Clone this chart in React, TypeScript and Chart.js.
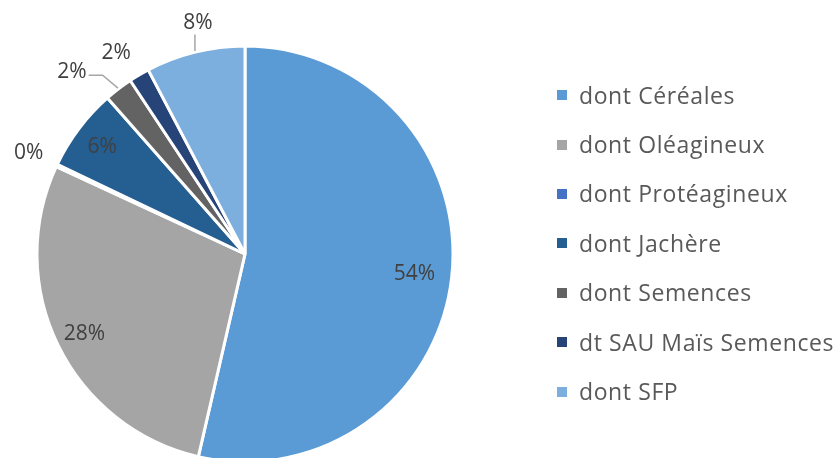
import React, { useEffect, useRef } from "react";
import { Chart, registerables } from "chart.js";

Chart.register(...registerables);

// ---- data ----
const categories = [
  "dont Céréales",
  "dont Oléagineux",
  "dont Protéagineux",
  "dont Jachère",
  "dont Semences",
  "dt SAU Maïs Semences",
  "dont SFP",
];
const shares = [53.6, 28.3, 0.2, 6.4, 2.2, 1.6, 7.7];
const colors = ["#5B9BD5", "#A5A5A5", "#4472C4", "#255E91", "#636363", "#264478", "#7CAFDD"];

// ---- label layout (relative to each slice) ----
const labelRadius = [0.82, 0.86, 1.15, 0.86, 1.21, 1.15, 1.14];
const labelAngleShift = [0, 0, 0, 0, -6, -2, 2.4];
const leaderStyle = ["none", "none", "none", "none", "elbow", "none", "vertical"];

const FONT = "'Open Sans', sans-serif";
const LEGEND_FONT = "'Open Sans', sans-serif";
const TEXT = "#404040";

const labelPlugin = {
  id: "pctLabels",
  afterDatasetsDraw(chart: any) {
    const ctx = chart.ctx;
    const meta = chart.getDatasetMeta(0);
    const data = chart.data.datasets[0].data as number[];
    const total = data.reduce((a, b) => a + b, 0);
    ctx.save();
    ctx.font = `21px ${FONT}`;
    ctx.textAlign = "center";
    ctx.textBaseline = "middle";
    meta.data.forEach((arc: any, i: number) => {
      const { x, y, startAngle, endAngle, outerRadius } = arc.getProps(
        ["x", "y", "startAngle", "endAngle", "outerRadius"],
        true
      );
      const mid = (startAngle + endAngle) / 2;
      const a = mid + (labelAngleShift[i] * Math.PI) / 180;
      const lx = x + Math.cos(a) * outerRadius * labelRadius[i];
      const ly = y + Math.sin(a) * outerRadius * labelRadius[i];
      const text = Math.round((data[i] / total) * 100) + "%";
      const w = ctx.measureText(text).width;
      const ex = x + Math.cos(mid) * (outerRadius + 1);
      const ey = y + Math.sin(mid) * (outerRadius + 1);
      ctx.strokeStyle = "#A6A6A6";
      ctx.lineWidth = 1.5;
      if (leaderStyle[i] === "elbow") {
        const endX = lx + w / 2 + 2;
        const endY = ly + 4;
        ctx.beginPath();
        ctx.moveTo(ex, ey);
        ctx.lineTo(endX + 14, endY);
        ctx.lineTo(endX, endY);
        ctx.stroke();
      } else if (leaderStyle[i] === "vertical") {
        ctx.beginPath();
        ctx.moveTo(ex, ey);
        ctx.lineTo(ex, ly + 13);
        ctx.stroke();
      }
      ctx.fillStyle = TEXT;
      ctx.fillText(text, lx, ly + 1);
    });
    ctx.restore();
  },
};

export default function App() {
  const ref = useRef<HTMLCanvasElement | null>(null);
  useEffect(() => {
    if (!ref.current) return;
    const chart = new Chart(ref.current, {
      type: "pie",
      data: {
        labels: categories,
        datasets: [
          {
            data: shares,
            backgroundColor: colors,
            borderColor: "#FFFFFF",
            borderWidth: 3,
            radius: 208,
            clip: false as any,
          } as any,
        ],
      },
      options: {
        responsive: false,
        animation: false,
        layout: { padding: { left: 0, right: 350, top: 50, bottom: 0 } },
        plugins: {
          legend: { display: false },
          tooltip: { enabled: false },
        },
      },
      plugins: [labelPlugin],
    });
    return () => chart.destroy();
  }, []);

  return (
    <div style={{ position: "absolute", left: 0, top: 0, width: 840, height: 458, overflow: "hidden", background: "#fff" }}>
      <canvas ref={ref} width={840} height={458} style={{ width: 840, height: 458, display: "block" }} />
      <div style={{ position: "absolute", left: 557, top: 70, fontFamily: LEGEND_FONT, fontSize: 23, letterSpacing: 0.6, color: "#595959" }}>
        {categories.map((c, i) => (
          <div key={c} style={{ display: "flex", alignItems: "center", height: 49.4, whiteSpace: "nowrap" }}>
            <span style={{ display: "inline-block", width: 10, height: 10, background: colors[i], marginRight: 12, marginTop: 1 }} />
            <span>{c}</span>
          </div>
        ))}
      </div>
    </div>
  );
}
